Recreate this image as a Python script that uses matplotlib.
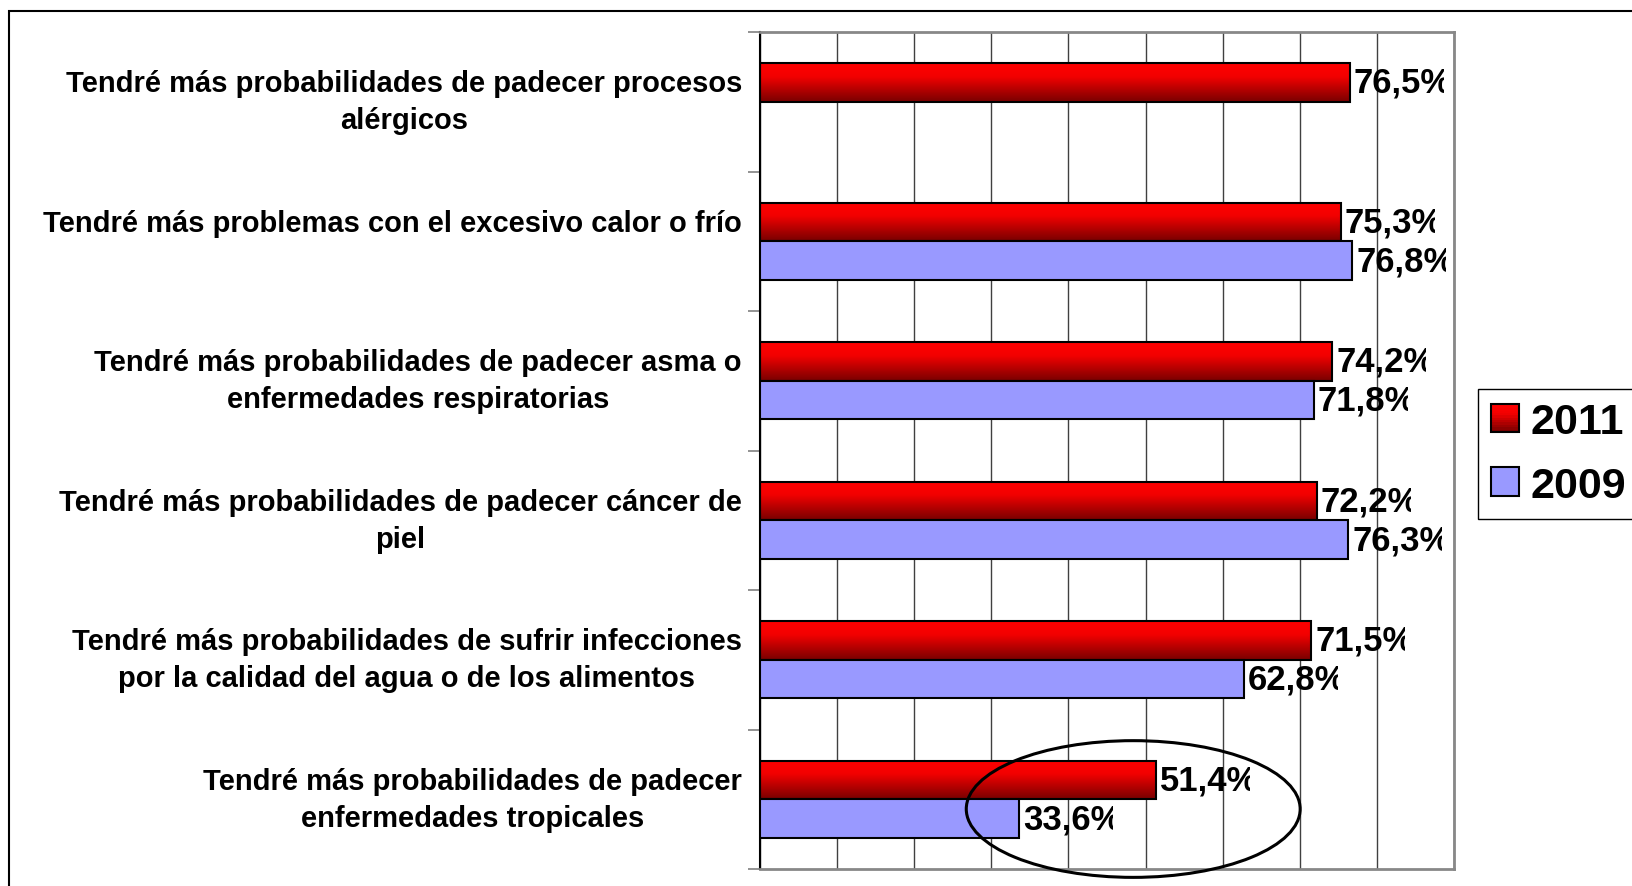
import numpy as np
import matplotlib
matplotlib.use("Agg")
import matplotlib.pyplot as plt
from matplotlib.patches import Rectangle, Ellipse, Patch
from matplotlib.colors import LinearSegmentedColormap
from matplotlib.transforms import Bbox, TransformedBbox

plt.rcParams['font.family'] = ['Liberation Sans', 'DejaVu Sans']

# datos
categorias = [
    "Tendré más probabilidades de padecer procesos\nalérgicos",
    "Tendré más problemas con el excesivo calor o frío\n ",
    "Tendré más probabilidades de padecer asma o\nenfermedades respiratorias",
    "Tendré más probabilidades de padecer cáncer de\npiel",
    "Tendré más probabilidades de sufrir infecciones\npor la calidad del agua o de los alimentos",
    "Tendré más probabilidades de padecer\nenfermedades tropicales",
]
valores_2011 = [76.5, 75.3, 74.2, 72.2, 71.5, 51.4]
valores_2009 = [None, 76.8, 71.8, 76.3, 62.8, 33.6]
series = ["2011", "2009"]

rojo = LinearSegmentedColormap.from_list("rojo", [(0, "#ff0000"), (0.35, "#f20000"), (1, "#7a0000")])
azul = "#9999ff"
alto = 0.276

fig = plt.figure(figsize=(16.33, 8.87), dpi=100)
ax = fig.add_axes([760/1633, 1-870/887, 694/1633, 837/887])

grad = np.linspace(0, 1, 64).reshape(-1, 1)

def etiqueta(v, yc):
    t = ax.text(v + 0.5, yc, f"{v:.1f}%".replace('.', ','), va='center', ha='left',
                fontsize=25, fontweight='bold', color='black')
    caja = TransformedBbox(Bbox([[v + 0.3, -1], [v + 12.2, 7]]), ax.transData)
    t.set_clip_box(caja)
    t.set_clip_on(True)

for i in range(len(categorias)):
    v = valores_2011[i]
    # barra roja con degradado
    ax.imshow(grad, extent=[0, v, i, i - alto], cmap=rojo, aspect='auto', zorder=2,
              interpolation='bilinear')
    ax.add_patch(Rectangle((0, i - alto), v, alto, fill=False, edgecolor='black', lw=1.5, zorder=3))
    etiqueta(v, i - alto/2)
    w = valores_2009[i]
    if w is not None:
        ax.barh(i + alto/2, w, height=alto, color=azul, edgecolor='black', lw=1.5, zorder=3)
        etiqueta(w, i + alto/2)

ax.set_xlim(0, 90)
ax.set_ylim(len(categorias) - 0.5, -0.5)
ax.set_xticks(np.arange(0, 91, 10))
ax.xaxis.grid(True, color='#404040', lw=1, zorder=0)
ax.tick_params(axis='x', length=0, labelbottom=False)

ax.set_yticks(np.arange(-0.5, len(categorias), 1))
ax.set_yticklabels([])
ax.tick_params(axis='y', which='major', length=9, color='#808080', width=1.2)
ax.set_yticks(np.arange(len(categorias)), minor=True)
ax.set_yticklabels(categorias, minor=True, fontsize=21, fontweight='bold', linespacing=1.42)
ax.tick_params(axis='y', which='minor', length=0, pad=13)
for lab in ax.get_yticklabels(minor=True):
    lab.set_multialignment('center')
    lab.set_verticalalignment('center')

ax.spines['left'].set_color('black')
ax.spines['left'].set_linewidth(1.5)
for s in ['top', 'right', 'bottom']:
    ax.spines[s].set_color('#888888')
    ax.spines[s].set_linewidth(2)

# elipse
ax.add_patch(Ellipse((48.4, 5.07), 43.3, 0.98, fill=False, edgecolor='black', lw=2.2, clip_on=False, zorder=5))

# leyenda con degradado
class Degradado:
    def legend_artist(self, legend, orig_handle, fontsize, handlebox):
        x0, y0 = -handlebox.xdescent, -handlebox.ydescent
        w, h = handlebox.width, handlebox.height
        n = 12
        tr = handlebox.get_transform()
        for k in range(n):
            handlebox.add_artist(Rectangle((x0, y0 + h*k/n), w, h/n + 0.3,
                                           facecolor=rojo(1 - k/(n - 1)), edgecolor='none', transform=tr))
        borde = Rectangle((x0, y0), w, h, fill=False, edgecolor='black', lw=1.5, transform=tr)
        handlebox.add_artist(borde)
        return borde

h2011 = Patch(label=series[0])
h2009 = Patch(facecolor=azul, edgecolor='black', lw=1.5, label=series[1])
leg = fig.legend(handles=[h2011, h2009], loc='upper left', bbox_to_anchor=(1478/1633, 1-390/887),
                 borderaxespad=0, prop={'weight': 'bold', 'size': 31},
                 handler_map={h2011: Degradado()}, handlelength=0.65, handleheight=0.63,
                 handletextpad=0.28, labelspacing=0.55, borderpad=0.3, fancybox=False,
                 edgecolor='black', framealpha=1)
leg.get_frame().set_linewidth(1)

# marco exterior
fig.add_artist(Rectangle((9/1633, -0.1), 2, 1.1 - 12/887, transform=fig.transFigure,
                         fill=False, edgecolor='black', lw=1.5))

fig.savefig("out.png", dpi=100)
